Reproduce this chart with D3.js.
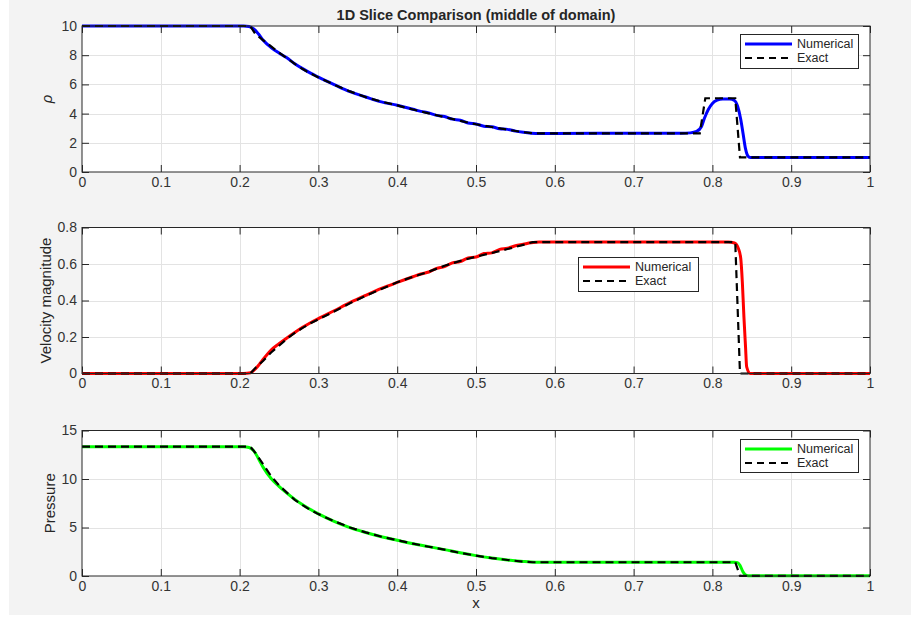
<!DOCTYPE html>
<html>
<head>
<meta charset="utf-8">
<script src="https://cdn.jsdelivr.net/npm/d3@7/dist/d3.min.js"></script>
<style>
  html, body { margin: 0; padding: 0; background: #ffffff; }
  svg { display: block; }
  text { font-family: Arial, "Liberation Sans", Helvetica, sans-serif; }
</style>
</head>
<body>
<svg id="fig" width="911" height="625"></svg>
<script>
// ---- tick values ----
const xTicks = [0, 0.1, 0.2, 0.3, 0.4, 0.5, 0.6, 0.7, 0.8, 0.9, 1];
const rhoTicks = [0, 2, 4, 6, 8, 10];
const velTicks = [0, 0.2, 0.4, 0.6, 0.8];
const presTicks = [0, 5, 10, 15];

// ---- exact Riemann solution samples ----
const exactX   = [0, 0.2135, 0.22, 0.23, 0.24, 0.25, 0.26, 0.27, 0.28, 0.29, 0.30, 0.32, 0.34, 0.36, 0.38, 0.40, 0.42, 0.44, 0.46, 0.48, 0.50, 0.52, 0.54, 0.56, 0.572, 0.784, 0.791, 0.829, 0.835, 1];
const exactRho = [10, 10, 9.45, 9.02, 8.6, 8.18, 7.8, 7.4, 7.05, 6.75, 6.48, 5.98, 5.52, 5.13, 4.82, 4.56, 4.28, 4.02, 3.76, 3.5, 3.27, 3.08, 2.9, 2.73, 2.65, 2.65, 5.05, 5.05, 1.0, 1.0];
const exactVel = [0, 0, 0.03, 0.07, 0.115, 0.152, 0.19, 0.222, 0.25, 0.275, 0.297, 0.34, 0.385, 0.425, 0.463, 0.5, 0.53, 0.558, 0.59, 0.617, 0.64, 0.66, 0.682, 0.705, 0.72, 0.72, 0.72, 0.72, 0, 0];
const exactP   = [13.33, 13.33, 12.7, 11.5, 10.3, 9.35, 8.6, 7.85, 7.3, 6.8, 6.38, 5.65, 5.0, 4.5, 4.05, 3.69, 3.33, 3.02, 2.72, 2.38, 2.1, 1.85, 1.65, 1.48, 1.42, 1.42, 1.42, 1.42, 0.02, 0.02];

// ---- numerical solution, density ----
const numRhoX = [0, 0.205, 0.212, 0.218, 0.224, 0.23, 0.24, 0.25, 0.26, 0.27, 0.28, 0.29, 0.30, 0.32, 0.34, 0.36, 0.38, 0.40, 0.42, 0.43, 0.44, 0.45, 0.46, 0.47, 0.48, 0.49, 0.50, 0.51, 0.52, 0.53, 0.54, 0.55, 0.56, 0.57, 0.58, 0.60, 0.70, 0.76, 0.772, 0.78, 0.786, 0.79, 0.795, 0.80, 0.806, 0.813, 0.822, 0.828, 0.832, 0.836, 0.839, 0.842, 0.845, 0.848, 1];
const numRho  = [10, 10, 9.97, 9.8, 9.45, 9.02, 8.52, 8.15, 7.82, 7.42, 7.08, 6.77, 6.5, 5.99, 5.5, 5.14, 4.8, 4.57, 4.3, 4.15, 4.05, 3.88, 3.8, 3.62, 3.55, 3.36, 3.29, 3.14, 3.1, 2.96, 2.92, 2.8, 2.72, 2.66, 2.63, 2.64, 2.65, 2.65, 2.68, 2.78, 3.1, 3.7, 4.3, 4.7, 4.92, 5.0, 5.0, 4.9, 4.5, 3.6, 2.6, 1.6, 1.1, 1.0, 1.0];

// ---- numerical solution, velocity magnitude ----
const numVelX = [0, 0.205, 0.214, 0.22, 0.225, 0.23, 0.235, 0.24, 0.25, 0.26, 0.27, 0.28, 0.29, 0.30, 0.32, 0.34, 0.36, 0.38, 0.40, 0.42, 0.43, 0.44, 0.45, 0.46, 0.47, 0.48, 0.49, 0.50, 0.51, 0.52, 0.53, 0.54, 0.55, 0.56, 0.57, 0.58, 0.82, 0.828, 0.833, 0.836, 0.838, 0.840, 0.842, 0.8435, 0.848, 1];
const numVel  = [0, 0, 0.004, 0.025, 0.05, 0.078, 0.104, 0.128, 0.163, 0.195, 0.225, 0.253, 0.278, 0.301, 0.344, 0.388, 0.428, 0.466, 0.499, 0.53, 0.545, 0.556, 0.576, 0.586, 0.606, 0.613, 0.633, 0.638, 0.657, 0.661, 0.68, 0.686, 0.7, 0.708, 0.716, 0.72, 0.72, 0.715, 0.685, 0.63, 0.5, 0.31, 0.15, 0.036, 0, 0];

// ---- numerical solution, pressure ----
const numPX = [0, 0.205, 0.212, 0.218, 0.224, 0.23, 0.24, 0.25, 0.26, 0.27, 0.28, 0.29, 0.30, 0.32, 0.34, 0.36, 0.38, 0.40, 0.42, 0.44, 0.46, 0.48, 0.50, 0.52, 0.54, 0.56, 0.575, 0.60, 0.828, 0.832, 0.835, 0.839, 0.8435, 0.848, 1];
const numP  = [13.33, 13.33, 13.25, 12.9, 12.1, 11.2, 10.05, 9.25, 8.55, 7.9, 7.35, 6.85, 6.4, 5.63, 4.98, 4.48, 4.04, 3.68, 3.33, 3.03, 2.72, 2.39, 2.1, 1.86, 1.66, 1.5, 1.43, 1.42, 1.42, 1.38, 1.1, 0.4, 0.05, 0.02, 0.02];

// ---- figure layout ----
const W = 911, H = 625;
const plotLeft = 82, plotRight = 870;
const panels = [
  { top: 26,    bottom: 172,   yMax: 10,  ticks: rhoTicks,  fmt: d => String(d),
    label: "\u03C1", italic: true, labelX: 52,
    numX: numRhoX, numY: numRho, exY: exactRho, color: "#0000ff",
    legend: { x: 740, y: 34, w: 118, h: 34 } },
  { top: 227.5, bottom: 373.5, yMax: 0.8, ticks: velTicks,  fmt: d => String(d),
    label: "Velocity magnitude", italic: false, labelX: 51,
    numX: numVelX, numY: numVel, exY: exactVel, color: "#ff0000",
    legend: { x: 578, y: 257, w: 120, h: 34 } },
  { top: 430.5, bottom: 576,   yMax: 15,  ticks: presTicks, fmt: d => String(d),
    label: "Pressure", italic: false, labelX: 55,
    numX: numPX, numY: numP, exY: exactP, color: "#00ff00",
    legend: { x: 740, y: 439, w: 118, h: 33 } }
];

const axisColor = "#262626";
const gridColor = "#e3e3e3";
const tickLen = 7;

const svg = d3.select("#fig");

// figure background
svg.append("rect").attr("x", 0).attr("y", 0).attr("width", W).attr("height", H).attr("fill", "#ffffff");
svg.append("rect").attr("x", 9).attr("y", 0).attr("width", W - 9).attr("height", 615).attr("fill", "#f3f3f3");

const x = d3.scaleLinear().domain([0, 1]).range([plotLeft, plotRight]);

panels.forEach((p, i) => {
  const y = d3.scaleLinear().domain([0, p.yMax]).range([p.bottom, p.top]);
  const g = svg.append("g");

  // axes background
  g.append("rect")
    .attr("x", plotLeft).attr("y", p.top)
    .attr("width", plotRight - plotLeft).attr("height", p.bottom - p.top)
    .attr("fill", "#ffffff");

  // grid
  g.append("g").selectAll("line").data(xTicks.slice(1, -1)).join("line")
    .attr("x1", d => Math.round(x(d)) + 0.5).attr("x2", d => Math.round(x(d)) + 0.5)
    .attr("y1", p.top).attr("y2", p.bottom)
    .attr("stroke", gridColor).attr("stroke-width", 1);
  g.append("g").selectAll("line").data(p.ticks.slice(1, -1)).join("line")
    .attr("y1", d => Math.round(y(d)) + 0.5).attr("y2", d => Math.round(y(d)) + 0.5)
    .attr("x1", plotLeft).attr("x2", plotRight)
    .attr("stroke", gridColor).attr("stroke-width", 1);

  // bottom axis with inward ticks, mirrored on top
  const xAxisB = d3.axisBottom(x).tickValues(xTicks).tickSizeInner(-tickLen).tickSizeOuter(0)
    .tickPadding(5).tickFormat(d => String(d));
  const gb = g.append("g").attr("transform", `translate(0,${p.bottom})`).call(xAxisB);
  const xAxisT = d3.axisTop(x).tickValues(xTicks).tickSizeInner(-tickLen).tickSizeOuter(0).tickFormat("");
  const gt = g.append("g").attr("transform", `translate(0,${p.top})`).call(xAxisT);

  // left axis with inward ticks, mirrored on right
  const yAxisL = d3.axisLeft(y).tickValues(p.ticks).tickSizeInner(-tickLen).tickSizeOuter(0)
    .tickPadding(5).tickFormat(p.fmt);
  const gl = g.append("g").attr("transform", `translate(${plotLeft},0)`).call(yAxisL);
  const yAxisR = d3.axisRight(y).tickValues(p.ticks).tickSizeInner(-tickLen).tickSizeOuter(0).tickFormat("");
  const gr = g.append("g").attr("transform", `translate(${plotRight},0)`).call(yAxisR);

  [gb, gt, gl, gr].forEach(a => {
    a.select(".domain").remove();
    a.selectAll(".tick line").attr("stroke", axisColor).attr("stroke-width", 1);
    a.selectAll(".tick text").attr("fill", "#333333").attr("font-size", 14);
  });

  // plot lines
  const clipId = "clip" + i;
  svg.append("clipPath").attr("id", clipId).append("rect")
    .attr("x", plotLeft).attr("y", p.top - 2)
    .attr("width", plotRight - plotLeft).attr("height", p.bottom - p.top + 4);

  const numData = p.numX.map((v, k) => [v, p.numY[k]]);
  const exData = exactX.map((v, k) => [v, p.exY[k]]);

  const lg = g.append("g").attr("clip-path", `url(#${clipId})`);
  lg.append("path").datum(numData)
    .attr("d", d3.line().x(d => x(d[0])).y(d => y(d[1])).curve(d3.curveMonotoneX))
    .attr("fill", "none").attr("stroke", p.color).attr("stroke-width", 3)
    .attr("stroke-linejoin", "round");
  lg.append("path").datum(exData)
    .attr("d", d3.line().x(d => x(d[0])).y(d => y(d[1])))
    .attr("fill", "none").attr("stroke", "#000000").attr("stroke-width", 2.2)
    .attr("stroke-dasharray", "8,5");

  // axes box
  g.append("rect")
    .attr("x", plotLeft).attr("y", p.top)
    .attr("width", plotRight - plotLeft).attr("height", p.bottom - p.top)
    .attr("fill", "none").attr("stroke", axisColor).attr("stroke-width", 1);

  // y label
  const mid = (p.top + p.bottom) / 2;
  g.append("text")
    .attr("transform", `translate(${p.labelX},${mid}) rotate(-90)`)
    .attr("text-anchor", "middle")
    .attr("font-size", 15)
    .attr("font-style", p.italic ? "italic" : "normal")
    .attr("fill", "#262626")
    .text(p.label);

  // legend
  const L = p.legend;
  const leg = g.append("g");
  leg.append("rect").attr("x", L.x + 0.5).attr("y", L.y + 0.5).attr("width", L.w).attr("height", L.h)
    .attr("fill", "#ffffff").attr("stroke", axisColor).attr("stroke-width", 1);
  const rows = [
    { name: "Numerical", color: p.color, dash: null, width: 3 },
    { name: "Exact", color: "#000000", dash: "7,5", width: 2.2 }
  ];
  rows.forEach((r, k) => {
    const cy = L.y + 10 + k * 14;
    leg.append("line")
      .attr("x1", L.x + 5).attr("x2", L.x + 52).attr("y1", cy).attr("y2", cy)
      .attr("stroke", r.color).attr("stroke-width", r.width)
      .attr("stroke-dasharray", r.dash);
    leg.append("text")
      .attr("x", L.x + 57).attr("y", cy).attr("dy", "0.35em")
      .attr("font-size", 12.5).attr("fill", "#262626")
      .text(r.name);
  });
});

// title and x label
svg.append("text")
  .attr("x", (plotLeft + plotRight) / 2).attr("y", 19.5)
  .attr("text-anchor", "middle").attr("font-size", 14.5).attr("font-weight", "bold")
  .attr("fill", "#262626")
  .text("1D Slice Comparison (middle of domain)");

svg.append("text")
  .attr("x", (plotLeft + plotRight) / 2).attr("y", 608)
  .attr("text-anchor", "middle").attr("font-size", 15)
  .attr("fill", "#262626")
  .text("x");
</script>
</body>
</html>
